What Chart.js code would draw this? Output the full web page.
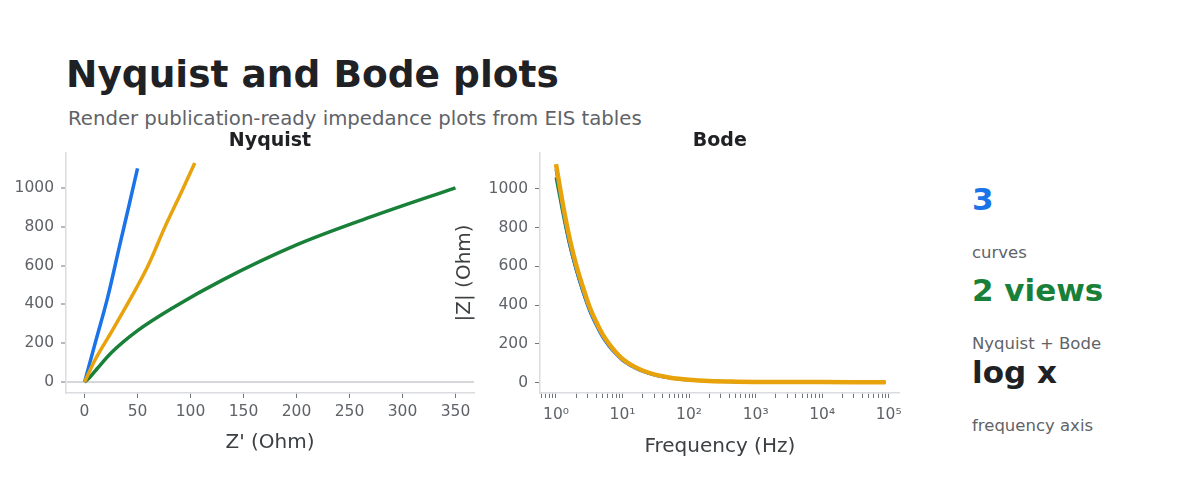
<!DOCTYPE html>
<html>
<head>
<meta charset="utf-8">
<script src="https://cdn.jsdelivr.net/npm/chart.js@4.4.1/dist/chart.umd.min.js"></script>
<style>
  body { margin: 0; background: #fff; width: 1200px; height: 480px; position: relative; overflow: hidden; font-family: 'DejaVu Sans', sans-serif; }
  .t { position: absolute; line-height: 1; white-space: nowrap; }
  canvas { position: absolute; }
</style>
</head>
<body>
<div class="t" style="left:66px; top:56.3px; font-size:37.5px; font-weight:bold; color:#202124;">Nyquist and Bode plots</div>
<div class="t" style="left:68px; top:109.3px; font-size:19.7px; color:#5f6368;">Render publication-ready impedance plots from EIS tables</div>

<div class="t" style="left:972px; top:183.8px; font-size:31px; font-weight:bold; color:#1a73e8;">3</div>
<div class="t" style="left:972px; top:245.3px; font-size:16.5px; color:#5f6368;">curves</div>
<div class="t" style="left:972px; top:274.8px; font-size:31px; font-weight:bold; color:#188038;">2 views</div>
<div class="t" style="left:972px; top:336px; font-size:16.5px; color:#5f6368;">Nyquist + Bode</div>
<div class="t" style="left:972px; top:357.1px; font-size:31px; font-weight:bold; color:#202124;">log x</div>
<div class="t" style="left:972px; top:417.7px; font-size:16.5px; color:#5f6368;">frequency axis</div>

<canvas id="nyquist" width="480" height="325" style="left:0px; top:130px;"></canvas>
<canvas id="bode" width="470" height="329" style="left:440px; top:130px;"></canvas>

<script>
// series colours
const colors = ['#1a73e8', '#188038', '#e8a20c'];

// Nyquist: Z' and -Z'' per curve (Ohm)
const nyqBlueX   = [0, 10, 22, 33, 42, 50];
const nyqBlueY   = [0, 200, 440, 700, 910, 1100];
const nyqGreenX  = [0, 5, 12, 25, 50, 85, 130, 200, 270, 350];
const nyqGreenY  = [0, 25, 70, 150, 265, 388, 525, 706, 850, 1000];
const nyqOrangeX = [0, 10, 25, 49, 60, 76, 92, 104];
const nyqOrangeY = [0, 115, 255, 485, 600, 800, 985, 1127];

// Bode: |Z| vs frequency
const freq        = [1, 1.3, 1.6, 2, 2.5, 3.2, 4, 5, 6.3, 8, 10, 15, 20, 30, 50, 70, 100, 200, 500, 1000, 3000, 10000, 30000, 89000];
const bodeBlue    = [1101, 870, 715, 585, 475, 370, 298, 235, 186, 146, 114, 77, 58, 39, 24, 17.5, 13, 7.5, 4.2, 3, 2.5, 2.2, 2.0, 2];
const bodeGreen   = [1059, 855, 710, 585, 478, 375, 303, 240, 191, 150, 118, 80, 60, 41, 25, 18.5, 13.5, 7.8, 4.4, 3.1, 2.6, 2.3, 2.1, 2];
const bodeOrange  = [1127, 900, 745, 610, 500, 390, 315, 250, 198, 155, 122, 82, 62, 42, 26, 19, 14, 8, 4.5, 3.2, 2.6, 2.3, 2.1, 2];

const nyqXTicks = [0, 50, 100, 150, 200, 250, 300, 350];
const yTicks = [0, 200, 400, 600, 800, 1000];
const supers = ['⁰', '¹', '²', '³', '⁴', '⁵'];

Chart.defaults.font.family = "'DejaVu Sans', sans-serif";
Chart.defaults.color = '#5f6368';

function pts(xs, ys) {
    return xs.map((x, i) => ({x: x, y: ys[i]}));
}

function axisBase() {
    return {
        border: {color: '#dadce0', width: 1.5},
        grid: {drawOnChartArea: false, tickColor: '#70757a', tickLength: 5, tickWidth: 1},
        ticks: {font: {size: 15.5}, color: '#5f6368', padding: 5, maxRotation: 0, autoSkip: false},
    };
}

function axisTitle(text, pad) {
    return {display: true, text: text, color: '#3c4043', font: {size: 20}, padding: pad};
}

function titleOpts(text) {
    return {display: true, text: text, color: '#202124', fullSize: false,
            font: {size: 19, weight: 'bold', lineHeight: 1.2}, padding: {top: 0, bottom: 0}};
}

// Nyquist
const nyqX = axisBase();
nyqX.type = 'linear';
nyqX.min = -17.5; nyqX.max = 367.5;
nyqX.title = axisTitle("Z' (Ohm)", {top: 0, bottom: 0});
nyqX.afterBuildTicks = s => { s.ticks = nyqXTicks.map(v => ({value: v})); };
nyqX.afterFit = s => { s.height = 62; };

const nyqY = axisBase();
nyqY.min = -56; nyqY.max = 1180;
nyqY.ticks.padding = 7;
nyqY.ticks.callback = v => String(v);
nyqY.grid.drawOnChartArea = true;
nyqY.grid.color = c => (c.tick && c.tick.value === 0) ? '#d5d7da' : 'rgba(0,0,0,0)';
nyqY.grid.lineWidth = c => (c.tick && c.tick.value === 0) ? 2 : 0;
nyqY.afterBuildTicks = s => { s.ticks = yTicks.map(v => ({value: v})); };
nyqY.afterFit = s => { s.width = 66; };

new Chart(document.getElementById('nyquist'), {
    type: 'scatter',
    data: {
        datasets: [
            {data: pts(nyqBlueX, nyqBlueY), borderColor: colors[0], order: 1},
            {data: pts(nyqGreenX, nyqGreenY), borderColor: colors[1], order: 2},
            {data: pts(nyqOrangeX, nyqOrangeY), borderColor: colors[2], order: 0},
        ],
    },
    options: {
        responsive: false,
        devicePixelRatio: 1,
        animation: false,
        layout: {padding: {left: 0, right: 6, top: 0, bottom: 0}},
        datasets: {scatter: {showLine: true, borderWidth: 3.5, pointRadius: 0, cubicInterpolationMode: 'monotone', fill: false}},
        plugins: {legend: {display: false}, tooltip: {enabled: false}, title: titleOpts('Nyquist')},
        scales: {x: nyqX, y: nyqY},
    },
});

// Bode
const bodeX = axisBase();
bodeX.type = 'logarithmic';
bodeX.min = 0.575; bodeX.max = 146000;
bodeX.ticks.padding = 8;
bodeX.title = axisTitle('Frequency (Hz)', {top: 0, bottom: 0});
bodeX.afterBuildTicks = s => {
    s.ticks = s.ticks.filter(t => {
        const e = Math.floor(Math.log10(t.value) + 1e-9);
        const m = t.value / Math.pow(10, e);
        return Math.abs(m - Math.round(m)) < 1e-6;
    });
};
bodeX.ticks.callback = v => {
    const e = Math.round(Math.log10(v));
    if (Math.abs(Math.pow(10, e) - v) < 1e-6 * v) return '10' + supers[e];
    return '';
};
bodeX.afterFit = s => { s.height = 66; };

const bodeY = axisBase();
bodeY.min = -54; bodeY.max = 1186;
bodeY.ticks.padding = 7;
bodeY.ticks.callback = v => String(v);
bodeY.title = axisTitle('|Z| (Ohm)', {top: 13, bottom: 0});
bodeY.afterBuildTicks = s => { s.ticks = yTicks.map(v => ({value: v})); };
bodeY.afterFit = s => { s.width = 100; };

new Chart(document.getElementById('bode'), {
    type: 'line',
    data: {
        datasets: [
            {data: pts(freq, bodeBlue), borderColor: colors[0], borderWidth: 3, order: 1},
            {data: pts(freq, bodeGreen), borderColor: colors[1], borderWidth: 3, order: 2},
            {data: pts(freq, bodeOrange), borderColor: colors[2], borderWidth: 4.5, order: 0},
        ],
    },
    options: {
        responsive: false,
        devicePixelRatio: 1,
        animation: false,
        layout: {padding: {left: 0, right: 10, top: 0, bottom: 0}},
        elements: {point: {radius: 0}, line: {cubicInterpolationMode: 'monotone', fill: false}},
        plugins: {legend: {display: false}, tooltip: {enabled: false}, title: titleOpts('Bode')},
        scales: {x: bodeX, y: bodeY},
    },
});
</script>
</body>
</html>
